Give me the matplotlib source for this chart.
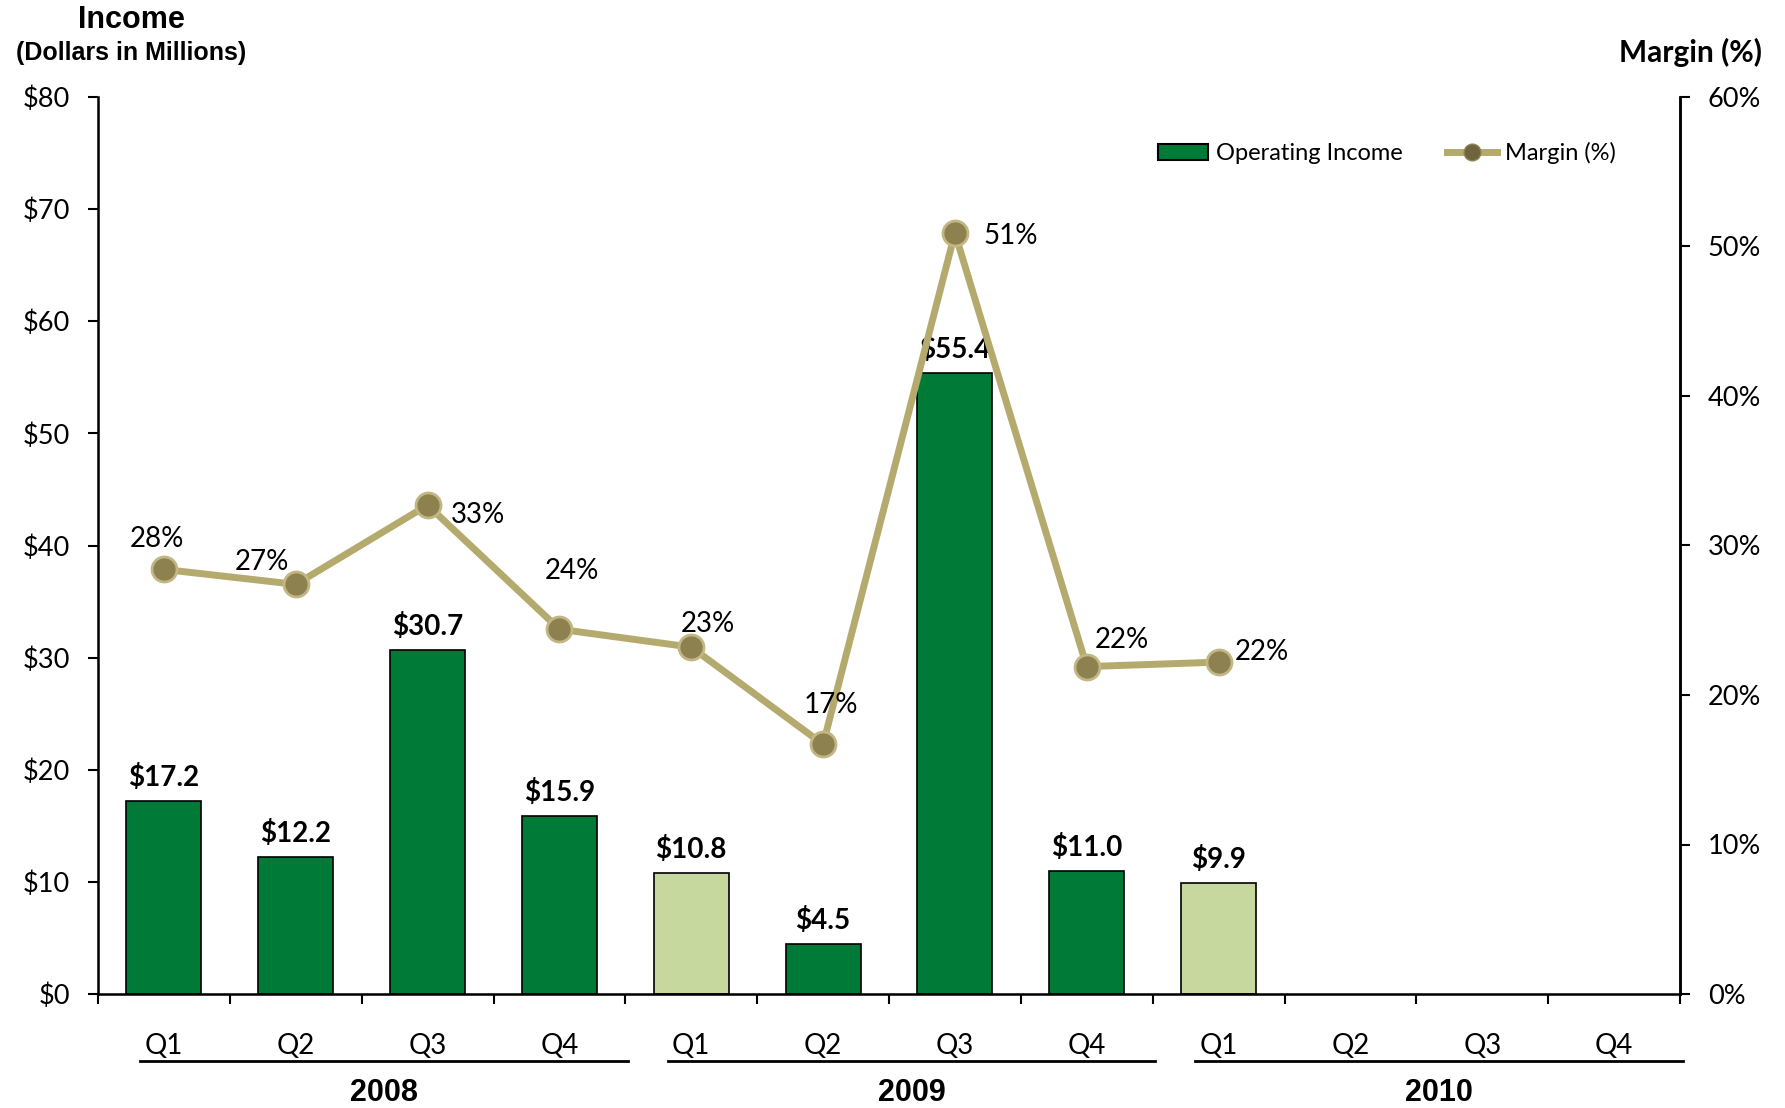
import matplotlib
matplotlib.use("Agg")
import matplotlib.pyplot as plt
from matplotlib.patches import Patch
from matplotlib.lines import Line2D
import matplotlib.transforms as mtransforms

# quarterly operating income ($M) and margin (%)
quarters = ["Q1", "Q2", "Q3", "Q4"] * 3
years = ["2008", "2009", "2010"]
income = [17.2, 12.2, 30.7, 15.9, 10.8, 4.5, 55.4, 11.0, 9.9]
margin = [28.4, 27.4, 32.7, 24.4, 23.2, 16.7, 50.9, 21.9, 22.2]

dark_green = "#007a37"
light_green = "#c6d89d"
khaki = "#b5aa6e"
bar_colors = [dark_green] * 4 + [light_green] + [dark_green] * 3 + [light_green]

# label offsets (points) for the margin annotations
m_off = [(-5, 22), (-24, 16), (36, -7), (9, 42), (12, 17), (6, 28), (40, -2), (25, 19), (31, 7)]

plt.rcParams["font.family"] = ["Lato", "DejaVu Sans"]

fig = plt.figure(figsize=(17.85, 11.08), dpi=100)
ax = fig.add_axes([98 / 1785, 1 - 994 / 1108, (1680 - 98) / 1785, (994 - 97) / 1108])

x = list(range(len(quarters)))
ax.bar(x[:len(income)], income, width=0.57, color=bar_colors, edgecolor="black", linewidth=1.2, zorder=2)
for i, v in enumerate(income):
    ax.annotate(f"${v:.1f}", (i, v), xytext=(0, 7), textcoords="offset points",
                ha="center", va="bottom", fontsize=20, fontweight="bold")

ax.set_xlim(-0.5, len(quarters) - 0.5)
ax.set_ylim(0, 80)
ax.set_yticks(range(0, 81, 10))
ax.set_yticklabels([f"${t}" for t in range(0, 81, 10)])
ax.set_xticks(x)
ax.set_xticklabels(quarters)
ax.set_xticks([i - 0.5 for i in range(len(quarters) + 1)], minor=True)
ax.tick_params(axis="x", which="major", length=0, pad=28, labelsize=20)
ax.tick_params(axis="x", which="minor", length=7, width=1.5, direction="out")
ax.tick_params(axis="y", length=7, width=1.5, pad=13, labelsize=19.5)
ax.spines["top"].set_visible(False)
for s in ["left", "right", "bottom"]:
    ax.spines[s].set_linewidth(1.8)

ax2 = ax.twinx()
ax2.set_ylim(0, 60)
ax2.set_yticks(range(0, 61, 10))
ax2.set_yticklabels([f"{t}%" for t in range(0, 61, 10)])
ax2.tick_params(axis="y", length=7, width=1.5, pad=13, labelsize=19.5)
ax2.spines["top"].set_visible(False)
ax2.spines["right"].set_linewidth(1.8)

mx = x[:len(margin)]
ax2.plot(mx, margin, color=khaki, linewidth=5, zorder=3, solid_capstyle="round")
ax2.plot(mx, margin, linestyle="none", marker="o", markersize=18,
         markerfacecolor="#8e8150", markeredgecolor="#c2b784", markeredgewidth=2, zorder=4)
for i, v in enumerate(margin):
    ax2.annotate(f"{v:.0f}%", (i, v), xytext=m_off[i], textcoords="offset points",
                 ha="center", va="center", fontsize=20)

# year groups under the quarter labels
trans = mtransforms.blended_transform_factory(ax.transData, ax.transAxes)
for g, yr in enumerate(years):
    x0, x1 = 4 * g - 0.18, 4 * g + 3.52
    ax.plot([x0, x1], [-0.0745, -0.0745], color="black", linewidth=2, transform=trans, clip_on=False)
    ax.text((x0 + x1) / 2, -0.11, yr, transform=trans, ha="center", va="center",
            fontsize=22, fontweight="bold", family=["Liberation Sans Narrow", "Liberation Sans"])

# axis titles
fig.text(131 / 1785, 1 - 20 / 1108, "Income", ha="center", va="center",
         fontsize=22, fontweight="bold", family="Liberation Sans")
fig.text(131 / 1785, 1 - 53 / 1108, "(Dollars in Millions)", ha="center", va="center",
         fontsize=18, fontweight="bold", family="Liberation Sans")
fig.text(1762 / 1785, 1 - 52 / 1108, "Margin (%)", ha="right", va="center",
         fontsize=21.5, fontweight="bold")

handles = [Patch(facecolor=dark_green, edgecolor="black", linewidth=1.5),
           Line2D([0], [0], color=khaki, linewidth=5, marker="o", markersize=12,
                  markerfacecolor="#6e6540", markeredgecolor="#8e8150")]
fig.legend(handles, ["Operating Income", "Margin (%)"], loc="center left",
           bbox_to_anchor=(1158 / 1785, 1 - 153 / 1108), ncol=2, frameon=False,
           fontsize=17, handlelength=2.1, handletextpad=0.35, columnspacing=1.9,
           borderpad=0, borderaxespad=0)

fig.savefig("out.png", dpi=100)
